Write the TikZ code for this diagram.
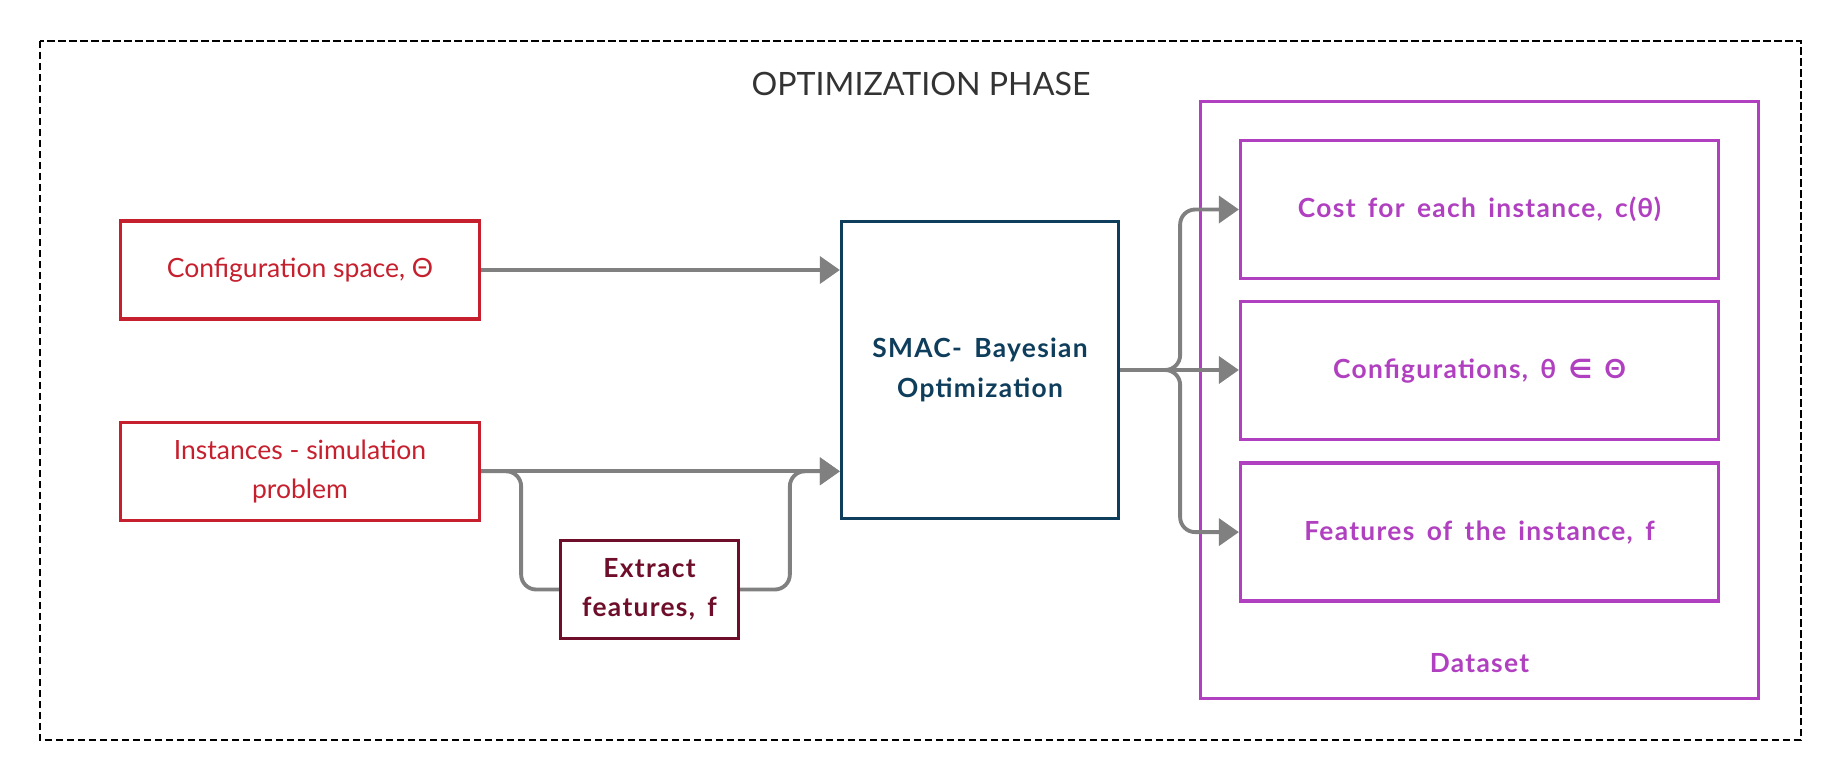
\documentclass[tikz,border=0pt]{standalone}
\usepackage{fontspec}
\setmainfont{Lato}[BoldFeatures={WordSpace=1.6, LetterSpace=5}]
\newfontfamily\symfont{DejaVu Sans}
\usetikzlibrary{positioning, arrows.meta}
\definecolor{cfgred}{RGB}{198,32,46}
\definecolor{smacblue}{RGB}{14,62,92}
\definecolor{featred}{RGB}{110,14,42}
\definecolor{dspurple}{RGB}{176,64,192}
\definecolor{linegray}{RGB}{128,128,128}
\definecolor{titlegray}{RGB}{51,51,51}

\begin{document}
\begin{tikzpicture}[
  x=0.02cm, y=-0.02cm,
  node distance=0.4cm,
  txt/.style={font=\fontsize{15.1}{22}\selectfont, align=center},
  btxt/.style={align=center, font=\fontsize{15}{22.5}\selectfont\bfseries},
  inbox/.style={rectangle, draw=cfgred, line width=1.9pt, fill=white,
                minimum width=7.18cm, minimum height=1.96cm, text=cfgred, txt},
  fbox/.style={rectangle, draw=featred, line width=1.9pt, fill=white,
               minimum width=3.56cm, minimum height=1.96cm, text=featred, btxt},
  smacbox/.style={rectangle, draw=smacblue, line width=1.9pt, fill=white,
                  minimum width=5.54cm, minimum height=5.94cm, text=smacblue, btxt},
  dsbox/.style={rectangle, draw=dspurple, line width=1.9pt,
                minimum width=11.16cm, minimum height=11.94cm},
  obox/.style={rectangle, draw=dspurple, line width=1.9pt, fill=white,
               minimum width=9.56cm, minimum height=2.76cm, text=dspurple, btxt},
  arr/.style={-{Triangle[length=0.4cm, width=0.54cm]}, line width=2.2pt,
              color=linegray, rounded corners=0.3cm},
  frame/.style={draw=black, line width=1.1pt, dash pattern=on 0.15cm off 0.07cm},
]
  \useasboundingbox (0,0) rectangle (1840,781);
  \draw[frame] (40,41) rectangle (1801,740);
  \node[text=titlegray, font=\fontsize{18.3}{22}\selectfont] (title) at (921,84)
    {OPTIMIZATION PHASE};

  % inputs
  \node[inbox] (cfg) at (300,270) {Configuration space, Θ};
  \node[inbox, below=2cm of cfg] (inst) {Instances - simulation\\problem};
  \node[fbox] (extract) at (649.5,589.5) {Extract\\features, f};
  \node[smacbox] (smac) at (980,370) {SMAC- Bayesian\\Optimization};

  % dataset
  \node[dsbox] (dataset) at (1479.5,400) {};
  \node[btxt, text=dspurple] (dslabel) at ([yshift=0.74cm]dataset.south) {Dataset};
  \node[obox] (cost) at (1479.5,209.5) {Cost for each instance, c(θ)};
  \node[obox, below=of cost] (conf) {Conﬁgurations, θ {\symfont ∈} Θ};
  \node[obox, below=of conf] (feat) {Features of the instance, f};

  \coordinate (split) at ([xshift=0.8cm]inst.east);
  \coordinate (join) at ([xshift=-1cm]smac.west |- inst.east);
  \coordinate (fan) at ([xshift=1.2cm]smac.east);

  \draw[arr] (cfg.east) -- (cfg.east -| smac.west);
  \draw[arr] (inst.east) -- (inst.east -| smac.west);
  \draw[arr, -] (inst.east) -- (split) |- (extract.west);
  \draw[arr] (extract.east) -| (join) -- (inst.east -| smac.west);
  \draw[arr] (smac.east) -- (fan) |- (cost.west);
  \draw[arr] (smac.east) -- (smac.east -| conf.west);
  \draw[arr] (smac.east) -- (fan) |- (feat.west);
\end{tikzpicture}
\end{document}
